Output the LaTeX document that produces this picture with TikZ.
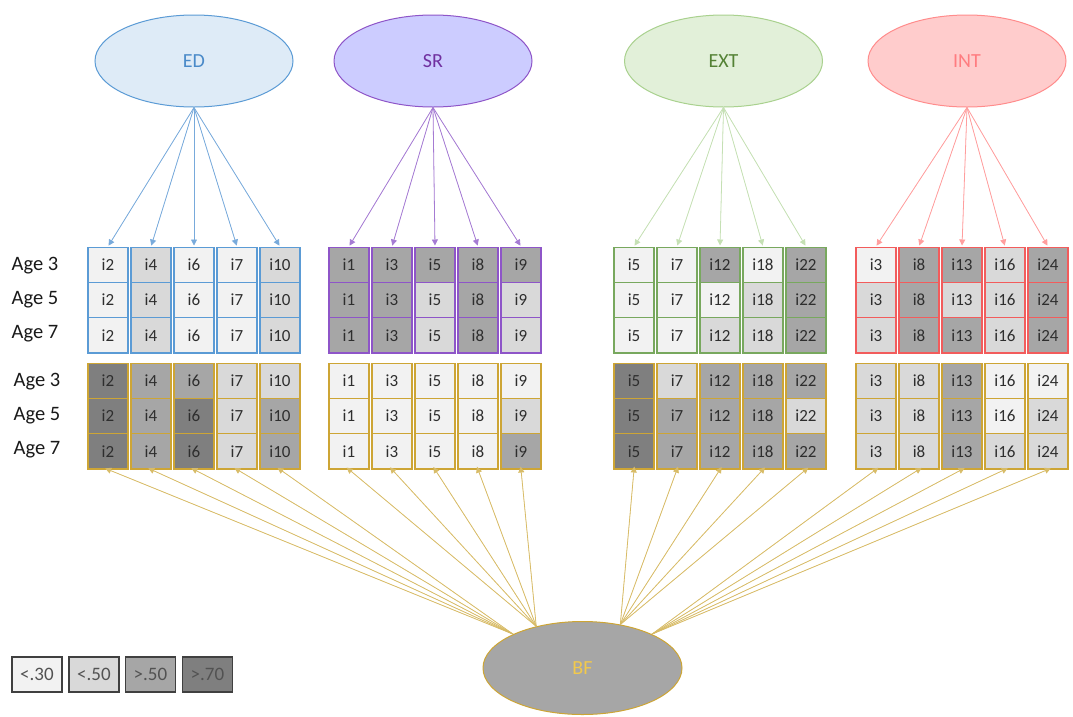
\documentclass[tikz,border=0pt]{standalone}
\usepackage{fontspec}
\setmainfont{Carlito}
\usetikzlibrary{shapes.geometric,arrows.meta}

\definecolor{s1}{HTML}{F2F2F2}
\definecolor{s2}{HTML}{D9D9D9}
\definecolor{s3}{HTML}{A6A6A6}
\definecolor{s4}{HTML}{7F7F7F}
\definecolor{edfill}{HTML}{DEEBF7}
\definecolor{edline}{HTML}{5B9BD5}
\definecolor{edtext}{HTML}{4A8AC9}
\definecolor{edarrow}{HTML}{78AADB}
\definecolor{srfill}{HTML}{CCCCFF}
\definecolor{srline}{HTML}{8E55C8}
\definecolor{srtext}{HTML}{7030A0}
\definecolor{srarrow}{HTML}{A57BD3}
\definecolor{extfill}{HTML}{E2F0D9}
\definecolor{extline}{HTML}{A9D18E}
\definecolor{exttext}{HTML}{548235}
\definecolor{extcell}{HTML}{78A85E}
\definecolor{extarrow}{HTML}{C5E0B4}
\definecolor{intfill}{HTML}{FFCCCC}
\definecolor{intline}{HTML}{FF8C8C}
\definecolor{inttext}{HTML}{FF7C80}
\definecolor{intcell}{HTML}{F25C5C}
\definecolor{intarrow}{HTML}{FF9E9E}
\definecolor{gold}{HTML}{CDA535}
\definecolor{goldarrow}{HTML}{D8BC68}
\definecolor{bftext}{HTML}{F2C94C}
\definecolor{keyline}{HTML}{404040}

\tikzset{
  latent/.style={ellipse, draw, line width=1pt, minimum width=198pt, minimum height=92pt,
    font=\fontsize{20}{20}\selectfont},
  cell/.style={draw, line width=1.1pt, minimum width=40pt, minimum height=35.3pt, inner sep=0pt,
    text=black!82, font=\fontsize{17}{17}\selectfont},
  agelabel/.style={font=\fontsize{20.5}{20}\selectfont, text=black!90},
  keybox/.style={draw=keyline, line width=1.1pt, minimum width=50pt, minimum height=35pt,
    inner sep=0pt, text=black!68, font=\fontsize{19}{19}\selectfont},
  load/.style={->, line width=0.8pt, shorten >=1pt}
}

% one block of items: name, left x, cell colour, arrow colour, angle on BF, data
\newcommand\itemgroup[6]{%
  \foreach \k/\it/\ta/\tb/\tc/\ba/\bb/\bc in {#6} {
    \node[cell, draw=#3, fill=s\ta] (#1-t-\k-1) at (#2+43*\k+20, 264.7) {i\it};
    \node[cell, draw=#3, fill=s\tb] (#1-t-\k-2) at (#2+43*\k+20, 300)   {i\it};
    \node[cell, draw=#3, fill=s\tc] (#1-t-\k-3) at (#2+43*\k+20, 335.3) {i\it};
    \node[cell, draw=gold, fill=s\ba] (#1-b-\k-1) at (#2+43*\k+20, 380.7) {i\it};
    \node[cell, draw=gold, fill=s\bb] (#1-b-\k-2) at (#2+43*\k+20, 416)   {i\it};
    \node[cell, draw=gold, fill=s\bc] (#1-b-\k-3) at (#2+43*\k+20, 451.3) {i\it};
    \draw[load, draw=#4, fill=#4] (#1.south) -- (#1-t-\k-1.north);
    \draw[load, draw=goldarrow, fill=gold, shorten >=-3pt] (BF.#5) -- (#1-b-\k-3.south);
  }%
}

\begin{document}
\begin{tikzpicture}[x=1pt, y=-1pt, >={Triangle[width=6pt,length=6pt]}]
  \useasboundingbox (0,0) rectangle (1073,716);

  % factors
  \node[latent, draw=edline,  fill=edfill,  text=edtext]  (ED)  at (194, 61)   {ED};
  \node[latent, draw=srline,  fill=srfill,  text=srtext]  (SR)  at (433, 61)   {SR};
  \node[latent, draw=extline, fill=extfill, text=exttext] (EXT) at (723.5, 61) {EXT};
  \node[latent, draw=intline, fill=intfill, text=inttext] (INT) at (967, 61)   {INT};
  \node[latent, draw=gold, fill=s3, text=bftext, minimum width=199pt, minimum height=93pt]
    (BF) at (582.5, 668) {BF};

  % items
  \itemgroup{ED}{88}{edline}{edarrow}{154}{0/2/1/1/1/4/4/4, 1/4/2/2/2/3/3/3,
    2/6/1/1/1/3/4/4, 3/7/1/1/1/2/2/2, 4/10/2/2/2/2/3/3}
  \itemgroup{SR}{329}{srline}{srarrow}{138}{0/1/3/3/3/1/1/1, 1/3/3/3/3/1/1/1,
    2/5/3/2/2/1/1/1, 3/8/3/3/3/1/1/1, 4/9/3/2/2/1/2/3}
  \itemgroup{EXT}{614}{extcell}{extarrow}{49}{0/5/1/1/1/4/4/4, 1/7/1/1/1/2/3/3,
    2/12/3/1/2/3/3/3, 3/18/1/2/2/3/3/3, 4/22/3/3/3/3/2/3}
  \itemgroup{INT}{856}{intcell}{intarrow}{26}{0/3/1/2/2/2/2/2, 1/8/3/3/3/2/2/2,
    2/13/3/2/3/3/3/3, 3/16/2/2/2/1/1/2, 4/24/3/3/3/1/2/2}

  % ages
  \node[agelabel] (age-t-3) at (35, 266) {Age 3};
  \node[agelabel] (age-t-5) at (35, 300) {Age 5};
  \node[agelabel] (age-t-7) at (35, 334) {Age 7};
  \node[agelabel] (age-b-3) at (37, 382) {Age 3};
  \node[agelabel] (age-b-5) at (37, 416) {Age 5};
  \node[agelabel] (age-b-7) at (37, 450) {Age 7};

  % key
  \node[keybox, fill=s1] (key1) at (37, 674.5)    {<.30};
  \node[keybox, fill=s2] (key2) at (94, 674.5)    {<.50};
  \node[keybox, fill=s3] (key3) at (150.5, 674.5) {>.50};
  \node[keybox, fill=s4] (key4) at (207.5, 674.5) {>.70};
\end{tikzpicture}
\end{document}
